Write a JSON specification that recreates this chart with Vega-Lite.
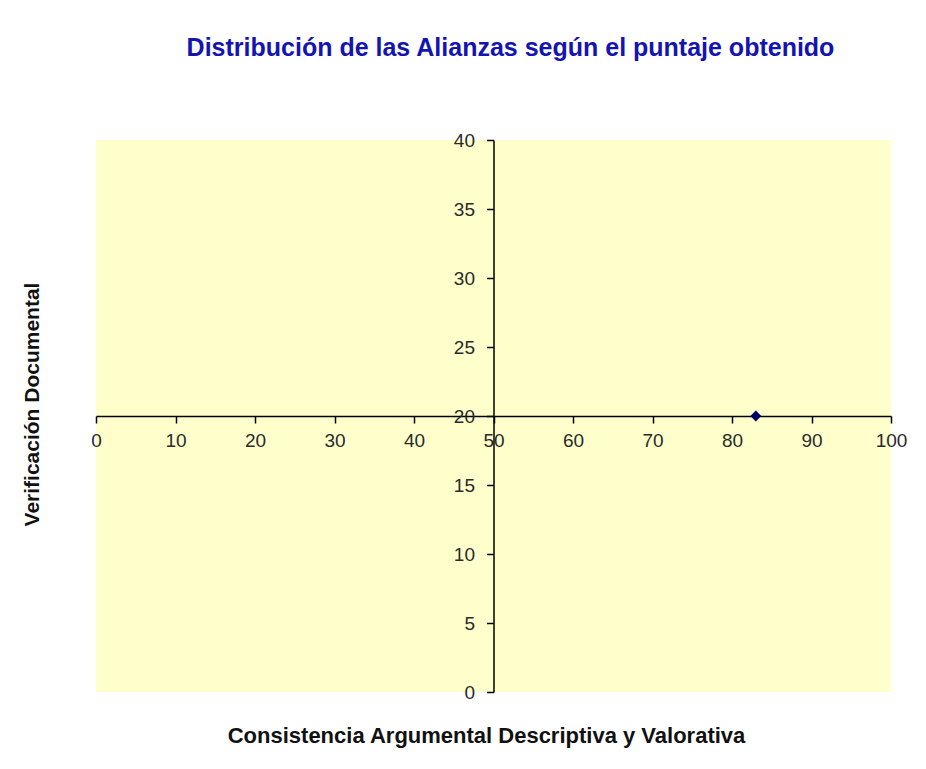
{
  "$schema": "https://vega.github.io/schema/vega-lite/v6.json",
  "autosize": {"type": "none"},
  "padding": {"left": 96, "top": 140, "right": 35, "bottom": 77},
  "width": 795,
  "height": 552,
  "background": "white",
  "title": {
    "text": "Distribución de las Alianzas según el puntaje obtenido",
    "font": "Liberation Sans",
    "fontSize": 25,
    "fontWeight": "bold",
    "color": "#1414B0",
    "anchor": "middle",
    "frame": "group",
    "baseline": "alphabetic",
    "offset": 50,
    "dx": 17
  },
  "config": {
    "view": {"fill": "#FFFFCC", "stroke": null},
    "axis": {
      "labelFont": "Liberation Sans",
      "labelFontSize": 19,
      "labelColor": "#2a2a2a",
      "titleFont": "Liberation Sans",
      "titleFontWeight": "bold",
      "titleColor": "#111111",
      "domainColor": "#000000",
      "domainWidth": 1.5,
      "tickColor": "#000000",
      "tickWidth": 1.5,
      "tickSize": 7,
      "grid": false
    }
  },
  "data": {"values": [{"consistencia": 83, "verificacion": 20}]},
  "mark": {"type": "point", "shape": "diamond", "filled": true, "size": 120, "color": "#000066", "opacity": 1},
  "encoding": {
    "x": {
      "field": "consistencia",
      "type": "quantitative",
      "scale": {"domain": [0, 100], "nice": false, "zero": false},
      "axis": {
        "orient": "bottom",
        "offset": -276,
        "values": [0, 10, 20, 30, 40, 50, 60, 70, 80, 90, 100],
        "labelFlush": false,
        "labelPadding": 8,
        "title": "Consistencia Argumental Descriptiva y Valorativa",
        "titleFontSize": 22,
        "titleX": 390,
        "titleY": 319,
        "titleAnchor": null,
        "titleAlign": "center",
        "titleBaseline": "middle"
      }
    },
    "y": {
      "field": "verificacion",
      "type": "quantitative",
      "scale": {"domain": [0, 40], "nice": false, "zero": false},
      "axis": {
        "orient": "left",
        "offset": -397.5,
        "values": [0, 5, 10, 15, 20, 25, 30, 35, 40],
        "labelFlush": false,
        "labelPadding": 12,
        "title": "Verificación Documental",
        "titleFontSize": 21,
        "titleX": -461,
        "titleY": 264,
        "titleAngle": -90,
        "titleAlign": "center",
        "titleBaseline": "middle"
      }
    }
  }
}
